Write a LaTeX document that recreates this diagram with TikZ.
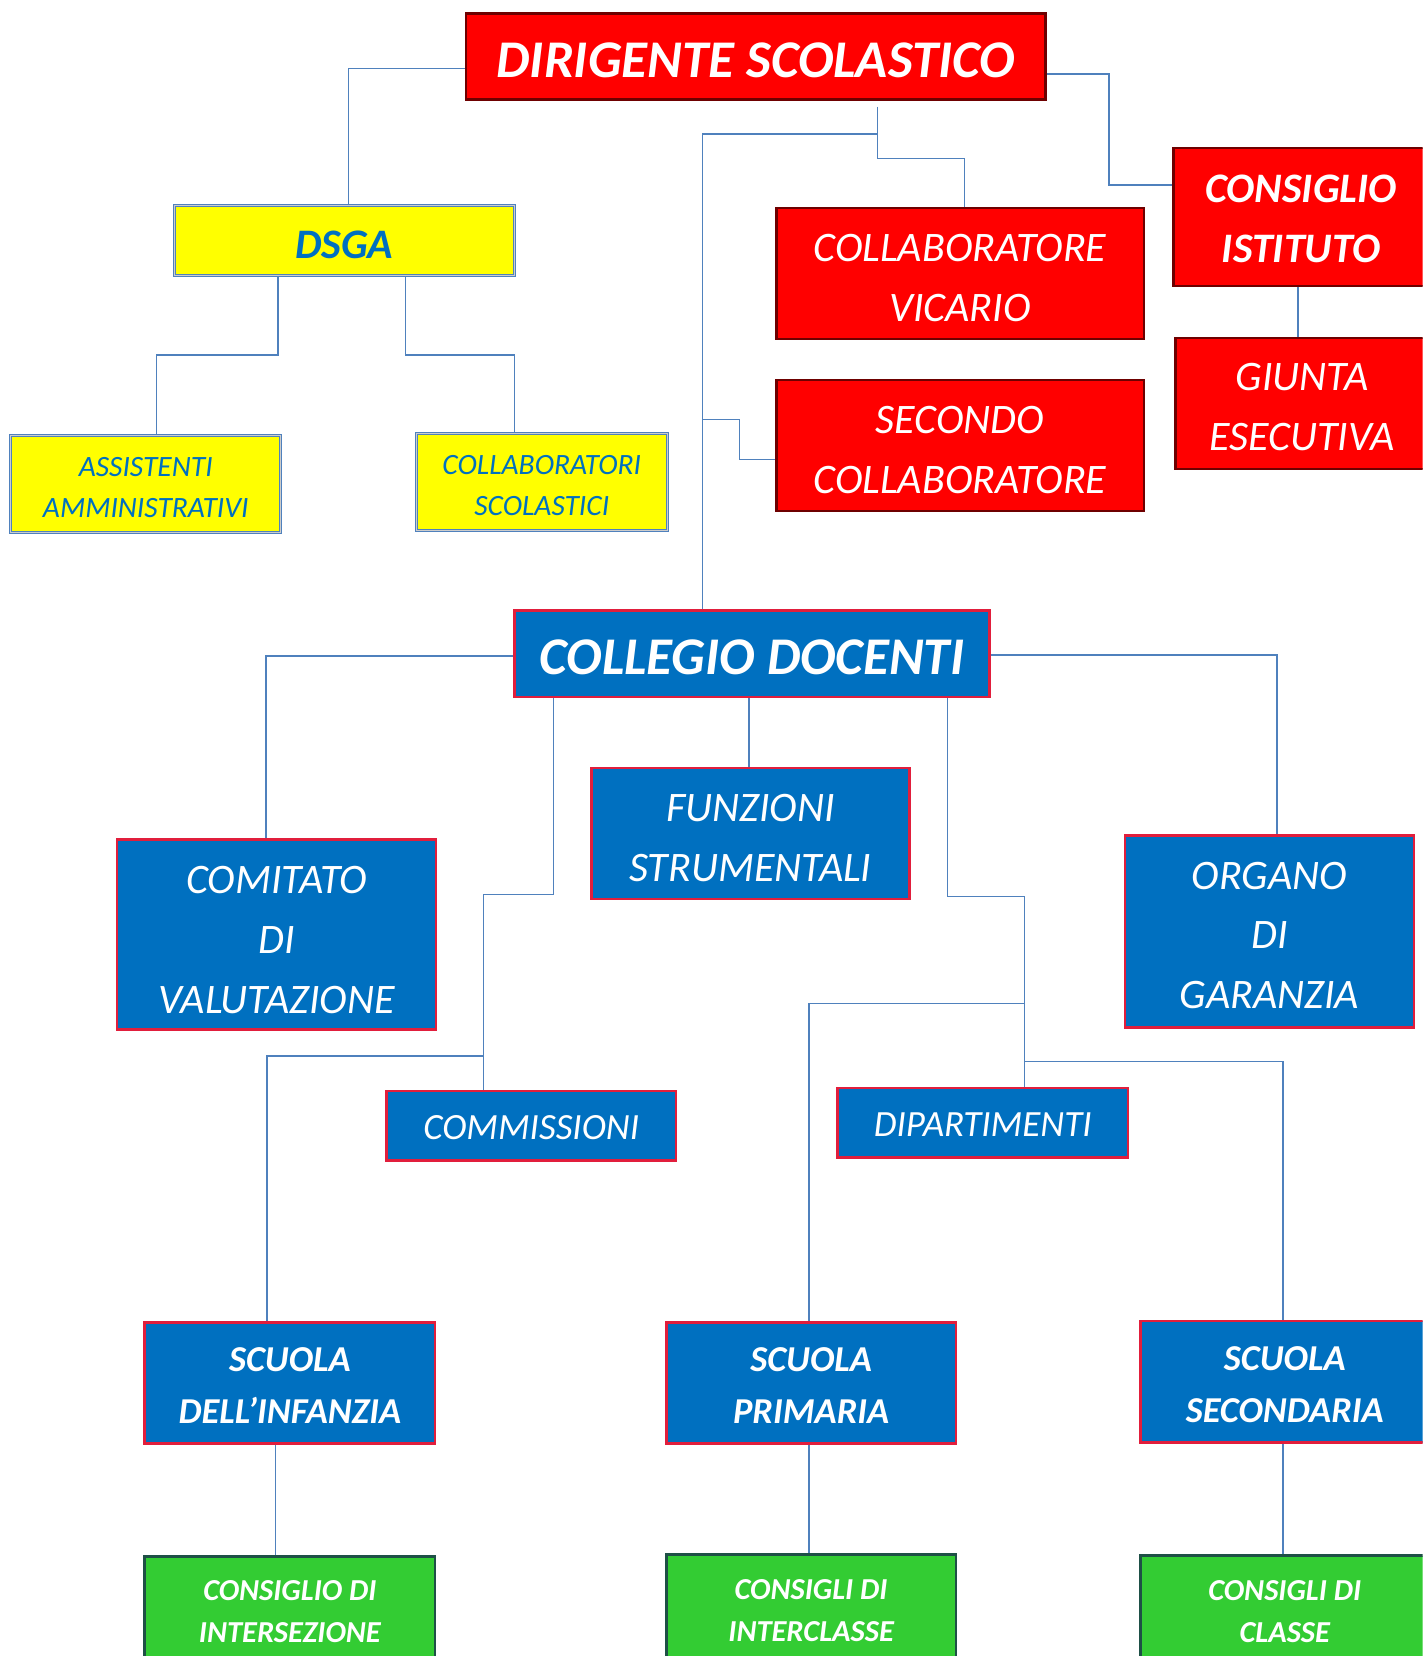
\documentclass[tikz,border=0pt]{standalone}
\usepackage{fontspec}
\setmainfont{Carlito}
\usetikzlibrary{fit}
\definecolor{lineblue}{RGB}{79,129,189}
\definecolor{boxred}{RGB}{255,0,0}
\definecolor{darkred}{RGB}{110,0,0}
\definecolor{yfill}{RGB}{255,255,0}
\definecolor{ybord}{RGB}{79,129,189}
\definecolor{bfill}{RGB}{0,112,192}
\definecolor{bbord}{RGB}{225,30,60}
\definecolor{gfill}{RGB}{51,204,51}
\definecolor{gbord}{RGB}{30,80,70}
\definecolor{tblue}{RGB}{0,112,192}
\tikzset{
  conn/.style={draw=lineblue, line width=1.5pt},
  basebox/.style={inner sep=0pt},
  redbox/.style={basebox, fill=boxred, draw=darkred, line width=2.5pt},
  yelbox/.style={basebox, fill=yfill, draw=ybord, double=gray!40, double distance=1pt, line width=1pt},
  bluebox/.style={basebox, fill=bfill, draw=bbord, line width=2.5pt},
  grnbox/.style={basebox, fill=gfill, draw=gbord, line width=2.5pt},
  wt/.style={inner sep=0pt, align=center, text=white, yshift=-4pt},
  bt/.style={inner sep=0pt, align=center, text=tblue, yshift=-4pt},
  fbig/.style={font=\fontsize{53}{60}\selectfont\bfseries\itshape},
  fmedb/.style={font=\fontsize{42}{60}\selectfont\bfseries\itshape},
  fmed/.style={font=\fontsize{42}{60}\selectfont\itshape},
  fsmall/.style={font=\fontsize{29.5}{41}\selectfont\itshape},
  fmid/.style={font=\fontsize{37}{50}\selectfont\itshape},
  fscb/.style={font=\fontsize{36.5}{52}\selectfont\bfseries\itshape},
  fgrn/.style={font=\fontsize{30.5}{42}\selectfont\bfseries\itshape},
}
\begin{document}
\begin{tikzpicture}[x=1.0564pt, y=-1.0564pt]
\useasboundingbox (0,0) rectangle (1347,1568);
\clip (0,0) rectangle (1347,1568);
\fill[white] (0,0) rectangle (1347,1568);

% boxes
\node[redbox, fit={(441,13) (990,94)}] (dir) {};
\node[yelbox, fit={(165,195) (487,261)}] (dsga) {};
\node[yelbox, fit={(10,412) (266,504)}] (aa) {};
\node[yelbox, fit={(394,410) (632,502)}] (cs) {};
\node[redbox, fit={(735,197) (1083,321)}] (vic) {};
\node[redbox, fit={(1111,140) (1353,271)}] (ci) {};
\node[redbox, fit={(1113,320) (1353,444)}] (ge) {};
\node[redbox, fit={(735,360) (1083,484)}] (sec) {};
\node[bluebox, fit={(487,578) (937,660)}] (col) {};
\node[bluebox, fit={(560,727) (861,851)}] (fs) {};
\node[bluebox, fit={(111,795) (413,975)}] (cv) {};
\node[bluebox, fit={(1065,791) (1339,973)}] (og) {};
\node[bluebox, fit={(366,1033) (640,1099)}] (comm) {};
\node[bluebox, fit={(793,1030) (1068,1096)}] (dip) {};
\node[bluebox, fit={(137,1252) (412,1367)}] (inf) {};
\node[bluebox, fit={(631,1252) (905,1367)}] (pri) {};
\node[bluebox, fit={(1080,1251) (1353,1366)}] (scd) {};
\node[grnbox, fit={(137,1474) (412,1578)}] (cin) {};
\node[grnbox, fit={(631,1472) (905,1578)}] (cic) {};
\node[grnbox, fit={(1080,1473) (1353,1578)}] (ccl) {};

% texts
\node[wt, fbig] (dirT) at (dir.center) {DIRIGENTE SCOLASTICO};
\node[bt, fmedb] (dsgaT) at (dsga.center) {DSGA};
\node[bt, fsmall] (aaT) at (aa.center) {ASSISTENTI\\AMMINISTRATIVI};
\node[bt, fsmall] (csT) at (cs.center) {COLLABORATORI\\SCOLASTICI};
\node[wt, fmed] (vicT) at (vic.center) {COLLABORATORE\\VICARIO};
\node[wt, fmedb, yshift=2pt] (ciT) at (ci.center) {CONSIGLIO\\ISTITUTO};
\node[wt, fmed] (geT) at (ge.center) {GIUNTA\\ESECUTIVA};
\node[wt, fmed] (secT) at (sec.center) {SECONDO\\COLLABORATORE};
\node[wt, fbig] (colT) at (col.center) {COLLEGIO DOCENTI};
\node[wt, fmed, yshift=-1pt] (fsT) at (fs.center) {FUNZIONI\\STRUMENTALI};
\node[wt, fmed, yshift=-1pt] (cvT) at (cv.center) {COMITATO\\DI\\VALUTAZIONE};
\node[wt, fmed] (ogT) at (og.center) {ORGANO\\DI\\GARANZIA};
\node[wt, fmid, yshift=2pt] (commT) at (comm.center) {COMMISSIONI};
\node[wt, fmid, yshift=2pt] (dipT) at (dip.center) {DIPARTIMENTI};
\node[wt, fscb, yshift=1pt] (infT) at (inf.center) {SCUOLA\\DELL’INFANZIA};
\node[wt, fscb, yshift=1pt] (priT) at (pri.center) {SCUOLA\\PRIMARIA};
\node[wt, fscb, yshift=1pt] (scdT) at (scd.center) {SCUOLA\\SECONDARIA};
\node[wt, fgrn, yshift=4pt] (cinT) at (cin.center) {CONSIGLIO DI\\INTERSEZIONE};
\node[wt, fgrn, yshift=4pt] (cicT) at (cic.center) {CONSIGLI DI\\INTERCLASSE};
\node[wt, fgrn, yshift=4pt] (cclT) at (ccl.center) {CONSIGLI DI\\CLASSE};

% helper coordinates
\coordinate (k1) at (330,65);
\coordinate (k2) at (1050,70);
\coordinate (k3) at (1050,175);
\coordinate (t0) at (831,101);
\coordinate (t1) at (831,127);
\coordinate (t2) at (831,150);
\coordinate (t3) at (913,150);
\coordinate (t4) at (665,127);
\coordinate (s1) at (665,397);
\coordinate (s2) at (700,397);
\coordinate (s3) at (700,435);
\coordinate (d1) at (263,336);
\coordinate (d2) at (148,336);
\coordinate (d3) at (384,336);
\coordinate (d4) at (487,336);
\coordinate (g1) at (1229,300);
\coordinate (c1) at (252,621);
\coordinate (m1) at (524,847);
\coordinate (m2) at (458,847);
\coordinate (m3) at (458,1000);
\coordinate (m4) at (253,1000);
\coordinate (f1) at (709,700);
\coordinate (p1) at (897,849);
\coordinate (p2) at (970,849);
\coordinate (p3) at (970,950);
\coordinate (p4) at (766,950);
\coordinate (p5) at (970,1005);
\coordinate (p6) at (1215,1005);
\coordinate (o1) at (1209,620);
\coordinate (b1) at (261,1400);
\coordinate (b2) at (766,1400);
\coordinate (b3) at (1215,1400);

% connectors
\draw[conn] (dir.west |- k1) -- (k1) -- (k1 |- dsga.north);
\draw[conn] (dir.east |- k2) -- (k2) -- (k3) -- (ci.west |- k3);
\draw[conn] (t0) -- (t2) -- (t3) -- (t3 |- vic.north);
\draw[conn] (t1) -- (t4) -- (t4 |- col.north);
\draw[conn] (s1) -- (s2) -- (s3) -- (sec.west |- s3);
\draw[conn] (d1 |- dsga.south) -- (d1) -- (d2) -- (d2 |- aa.north);
\draw[conn] (d3 |- dsga.south) -- (d3) -- (d4) -- (d4 |- cs.north);
\draw[conn] (g1 |- ci.south) -- (g1 |- ge.north);
\draw[conn] (col.west |- c1) -- (c1) -- (c1 |- cv.north);
\draw[conn] (m1 |- col.south) -- (m1) -- (m2) -- (m2 |- comm.north);
\draw[conn] (m3) -- (m4) -- (m4 |- inf.north);
\draw[conn] (f1 |- col.south) -- (f1 |- fs.north);
\draw[conn] (p1 |- col.south) -- (p1) -- (p2) -- (p2 |- dip.north);
\draw[conn] (p3) -- (p4) -- (p4 |- pri.north);
\draw[conn] (p5) -- (p6) -- (p6 |- scd.north);
\draw[conn] (col.east |- o1) -- (o1) -- (o1 |- og.north);
\draw[conn] (b1 |- inf.south) -- (b1 |- cin.north);
\draw[conn] (b2 |- pri.south) -- (b2 |- cic.north);
\draw[conn] (b3 |- scd.south) -- (b3 |- ccl.north);
\end{tikzpicture}
\end{document}
